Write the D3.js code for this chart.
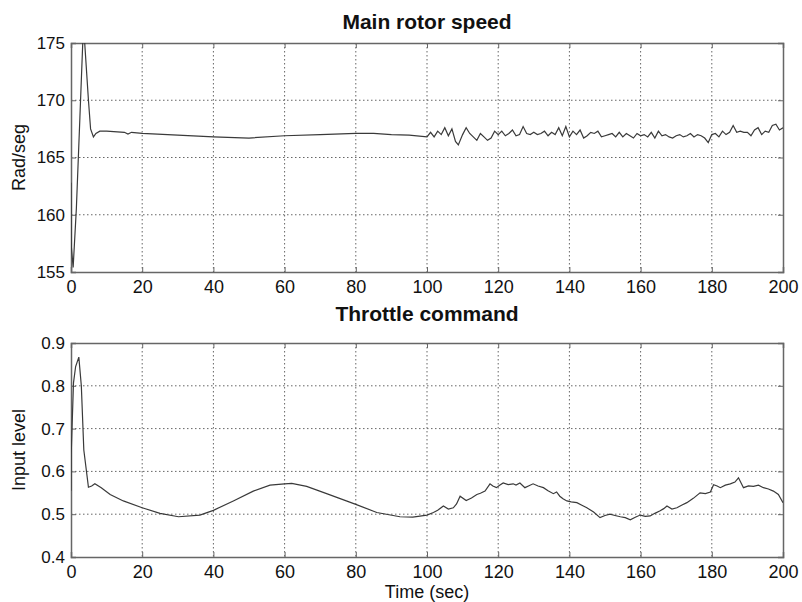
<!DOCTYPE html>
<html>
<head>
<meta charset="utf-8">
<script src="https://cdn.jsdelivr.net/npm/d3@7"></script>
<style>
  body { margin: 0; background: #fff; }
  text { font-family: "Liberation Sans", Arial, sans-serif; fill: #111; }
</style>
</head>
<body>
<div id="chart"></div>
<script>
// Canvas size
const width = 802;
const height = 602;
const left = 71, right = 783;

// Shared x ticks
const timeTicks = [0, 20, 40, 60, 80, 100, 120, 140, 160, 180, 200];

// Main rotor speed (rad/s)
const rotorTicks = [155, 160, 165, 170, 175];
const rotorTime = [0, 0.1, 0.6, 1.5, 2.5, 3.3, 3.55, 3.85, 4.9, 5.5, 6.3, 7, 8.1, 10, 15, 16, 17, 20, 30, 40, 50, 60, 70, 80, 85, 90, 95, 100,
  101, 102, 103, 104, 105, 106, 107, 108, 108.8, 110, 111, 112, 113, 114, 115, 116, 117, 118, 119, 120,
  121, 122, 123, 124, 125, 126, 127, 128, 129, 130, 131, 132, 133, 134, 135, 136, 137, 138, 139, 140,
  141, 142, 143, 144, 145, 146, 147, 148, 149, 150, 151, 152, 153, 154, 155, 156, 157, 158, 159, 160,
  161, 162, 163, 164, 165, 166, 167, 168, 169, 170, 171, 172, 173, 174, 175, 176, 177, 178, 179, 180,
  181, 182, 183, 184, 185, 186, 187, 188, 189, 190, 191, 192, 193, 194, 195, 196, 197, 198, 199, 200];
const rotorSpeed = [162.8, 157.2, 155.4, 160.5, 168.5, 175, 177, 175, 170, 167.5, 166.8, 167.1, 167.3, 167.3, 167.2, 167.05, 167.2, 167.1, 166.95, 166.8, 166.7, 166.9, 167.0, 167.1, 167.1, 167.0, 166.95, 166.8,
  167.2, 166.8, 167.3, 167.0, 167.6, 166.9, 167.5, 166.4, 166.1, 167.0, 167.6, 167.1, 166.8, 166.5, 167.1, 166.8, 166.5, 166.7, 167.3, 167.0,
  167.3, 166.9, 167.1, 167.4, 166.9, 167.0, 167.7, 167.1, 167.0, 167.2, 167.0, 167.1, 167.3, 166.9, 167.2, 167.0, 167.6, 166.9, 167.7, 166.8,
  167.3, 167.0, 167.4, 166.7, 166.9, 167.2, 167.1, 167.3, 166.8, 166.9, 167.0, 167.1, 166.8, 167.2, 166.8, 167.1, 166.9, 166.7, 167.1, 166.9,
  167.0, 166.8, 167.2, 166.7, 167.3, 166.9, 167.0, 166.8, 166.7, 166.9, 167.0, 166.8, 166.9, 167.1, 166.8, 167.0, 166.9, 166.7, 166.3, 167.0,
  167.1, 166.8, 167.3, 167.0, 167.2, 167.8, 167.2, 167.3, 167.2, 167.2, 166.9, 167.4, 167.6, 167.0, 167.3, 167.2, 167.8, 167.9, 167.4, 167.6];

// Throttle command (input level)
const throttleTicks = [0.4, 0.5, 0.6, 0.7, 0.8, 0.9];
const throttleTime = [0, 0.05, 0.7, 1.3, 2.2, 2.9, 3.6, 4.9, 5.8, 6.7, 8.5, 11, 14.7, 20, 25, 30.2, 36.2, 40, 45.6, 51.2, 55.9, 60, 62, 66.2, 71.8, 80, 85.9, 92.4, 96, 100,
  101.8, 103, 104.6, 106, 107.4, 108.3, 109.3, 111, 112.5, 114, 115, 116.3, 117.7, 118.5, 119.5, 120.5, 121.4, 122.8, 124.2, 125, 126.1, 127.5, 128.5, 129.8, 131.2, 132.7, 134, 135.5, 136.4, 137.3, 138.2, 139.3, 140.5,
  142.1, 143.5, 144.9, 146.8, 148.6, 150, 151.4, 152.8, 154.3, 155.7, 157.1, 158.5, 159.9, 161.3, 162.7, 164, 165.5, 166.5, 167.4, 168.8, 170.2, 171.5, 173, 174.8, 176.7, 178.2, 179.6, 180.5, 181.5, 182.4, 183.8, 185.2, 186.5, 187.5, 188.9, 190.3, 191.7, 193.1, 194.5, 195.9, 197.3, 198.7, 200];
const throttleLevel = [0.555, 0.64, 0.807, 0.845, 0.867, 0.80, 0.65, 0.563, 0.566, 0.571, 0.562, 0.546, 0.531, 0.515, 0.502, 0.494, 0.498, 0.509, 0.531, 0.554, 0.568, 0.571, 0.572, 0.565, 0.548, 0.523, 0.504, 0.494, 0.493, 0.498,
  0.504, 0.509, 0.519, 0.512, 0.515, 0.524, 0.542, 0.532, 0.538, 0.546, 0.549, 0.554, 0.571, 0.566, 0.562, 0.568, 0.573, 0.569, 0.571, 0.568, 0.573, 0.562, 0.566, 0.571, 0.566, 0.562, 0.555, 0.548, 0.552, 0.542, 0.536, 0.531, 0.529,
  0.527, 0.521, 0.515, 0.505, 0.492, 0.497, 0.500, 0.497, 0.494, 0.492, 0.487, 0.493, 0.498, 0.495, 0.496, 0.502, 0.508, 0.513, 0.519, 0.512, 0.515, 0.521, 0.527, 0.537, 0.550, 0.548, 0.552, 0.569, 0.566, 0.562, 0.568, 0.571, 0.575, 0.585, 0.562, 0.566, 0.565, 0.568, 0.562, 0.559, 0.554, 0.546, 0.527];

const svg = d3.select("#chart")
  .append("svg")
  .attr("width", width)
  .attr("height", height);

const xScale = d3.scaleLinear().domain([0, 200]).range([left, right]);

function drawPanel(cfg) {
  const y = d3.scaleLinear().domain(cfg.domain).range([cfg.bottom, cfg.top]);
  const g = svg.append("g");
  const clipId = cfg.id + "-clip";

  g.append("clipPath").attr("id", clipId)
    .append("rect")
    .attr("x", left).attr("y", cfg.top)
    .attr("width", right - left).attr("height", cfg.bottom - cfg.top);

  // Dotted grid
  g.append("g")
    .selectAll("line")
    .data(timeTicks.slice(1, -1))
    .join("line")
    .attr("x1", d => xScale(d)).attr("x2", d => xScale(d))
    .attr("y1", cfg.top).attr("y2", cfg.bottom)
    .attr("stroke", "#666").attr("stroke-width", 1)
    .attr("stroke-dasharray", "1.5,2.5");

  g.append("g")
    .selectAll("line")
    .data(cfg.ticks.slice(1, -1))
    .join("line")
    .attr("x1", left).attr("x2", right)
    .attr("y1", d => y(d)).attr("y2", d => y(d))
    .attr("stroke", "#666").attr("stroke-width", 1)
    .attr("stroke-dasharray", "1.5,2.5");

  // Axes (ticks inward, MATLAB style)
  const axisColor = "#666";
  const yl = g.append("g").attr("transform", `translate(${left},0)`)
    .call(d3.axisLeft(y).tickValues(cfg.ticks).tickSize(-5).tickPadding(6).tickFormat(cfg.fmt));
  const yr = g.append("g").attr("transform", `translate(${right},0)`)
    .call(d3.axisRight(y).tickValues(cfg.ticks).tickSize(-5).tickFormat(""));
  const xb = g.append("g").attr("transform", `translate(0,${cfg.bottom})`)
    .call(d3.axisBottom(xScale).tickValues(timeTicks).tickSize(-5).tickPadding(8));
  const xt = g.append("g").attr("transform", `translate(0,${cfg.top})`)
    .call(d3.axisTop(xScale).tickValues(timeTicks).tickSize(-5).tickFormat(""));

  [yl, yr, xb, xt].forEach(a => {
    a.select(".domain").attr("stroke", axisColor).attr("stroke-width", 1.5);
    a.selectAll(".tick line").attr("stroke", axisColor);
    a.selectAll("text")
      .style("font-family", "'Liberation Sans', Arial, sans-serif")
      .style("font-size", "17px")
      .attr("fill", "#111");
  });
  xb.selectAll("text").style("font-size", "18px");

  // Data line
  const line = d3.line()
    .x(d => xScale(d[0]))
    .y(d => y(d[1]));

  g.append("path")
    .datum(d3.zip(cfg.time, cfg.values))
    .attr("clip-path", `url(#${clipId})`)
    .attr("fill", "none")
    .attr("stroke", "#3a3a3a")
    .attr("stroke-width", 1.2)
    .attr("d", line);

  // Title and y label
  svg.append("text")
    .attr("x", (left + right) / 2).attr("y", cfg.titleY)
    .attr("text-anchor", "middle")
    .style("font-size", "21px").style("font-weight", "bold")
    .text(cfg.title);

  svg.append("text")
    .attr("transform", `translate(25,${(cfg.top + cfg.bottom) / 2}) rotate(-90)`)
    .attr("text-anchor", "middle")
    .style("font-size", "18px")
    .text(cfg.ylabel);
}

drawPanel({
  id: "rotor", top: 43, bottom: 272, domain: [155, 175],
  ticks: rotorTicks, time: rotorTime, values: rotorSpeed,
  fmt: d3.format("d"), title: "Main rotor speed", titleY: 29, ylabel: "Rad/seg"
});

drawPanel({
  id: "throttle", top: 343, bottom: 557, domain: [0.4, 0.9],
  ticks: throttleTicks, time: throttleTime, values: throttleLevel,
  fmt: d3.format(".1f"), title: "Throttle command", titleY: 321, ylabel: "Input level"
});

// X label
svg.append("text")
  .attr("x", (left + right) / 2).attr("y", 598)
  .attr("text-anchor", "middle")
  .style("font-size", "18px")
  .text("Time (sec)");
</script>
</body>
</html>
